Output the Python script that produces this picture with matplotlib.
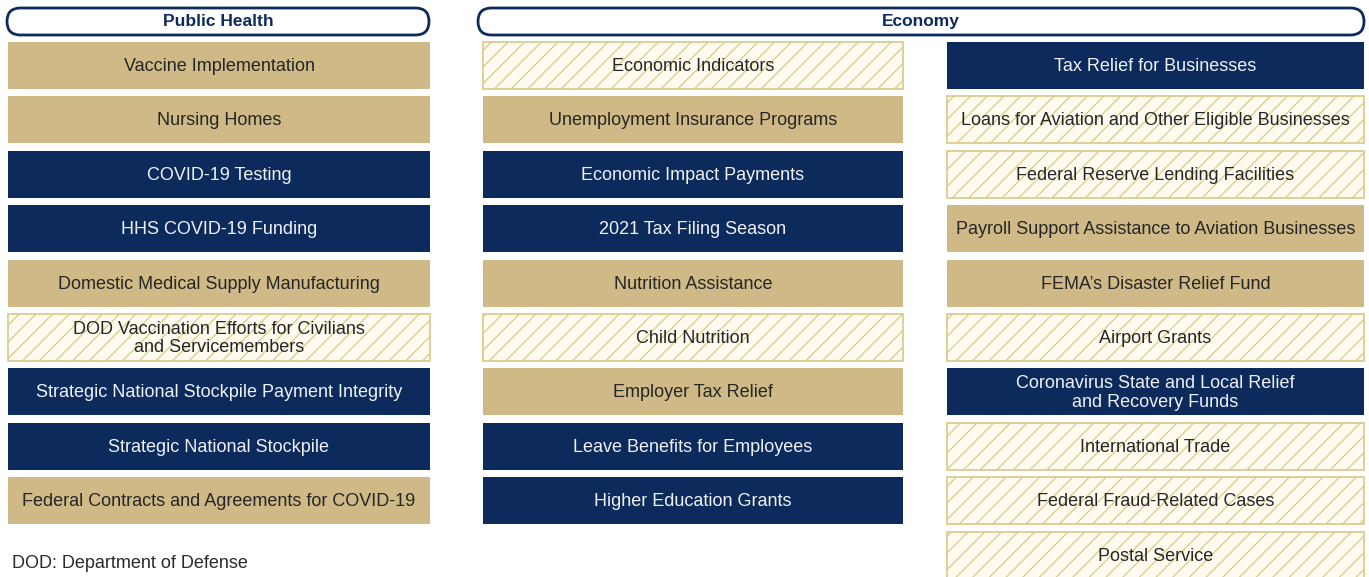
import matplotlib
matplotlib.use("Agg")
import matplotlib.pyplot as plt
from matplotlib.patches import Rectangle, FancyBboxPatch

plt.rcParams['font.family'] = ['Liberation Sans', 'DejaVu Sans']
plt.rcParams['hatch.linewidth'] = 0.9

# columns of topics and their fill style
col1 = ["Vaccine Implementation", "Nursing Homes", "COVID-19 Testing",
        "HHS COVID-19 Funding", "Domestic Medical Supply Manufacturing",
        "DOD Vaccination Efforts for Civilians\nand Servicemembers",
        "Strategic National Stockpile Payment Integrity",
        "Strategic National Stockpile",
        "Federal Contracts and Agreements for COVID-19"]
kind1 = ["gold", "gold", "navy", "navy", "gold", "hatch", "navy", "navy", "gold"]

col2 = ["Economic Indicators", "Unemployment Insurance Programs",
        "Economic Impact Payments", "2021 Tax Filing Season",
        "Nutrition Assistance", "Child Nutrition", "Employer Tax Relief",
        "Leave Benefits for Employees", "Higher Education Grants"]
kind2 = ["hatch", "gold", "navy", "navy", "gold", "hatch", "gold", "navy", "navy"]

col3 = ["Tax Relief for Businesses",
        "Loans for Aviation and Other Eligible Businesses",
        "Federal Reserve Lending Facilities",
        "Payroll Support Assistance to Aviation Businesses",
        "FEMA\u2019s Disaster Relief Fund", "Airport Grants",
        "Coronavirus State and Local Relief\nand Recovery Funds",
        "International Trade", "Federal Fraud-Related Cases", "Postal Service"]
kind3 = ["navy", "hatch", "hatch", "gold", "gold", "hatch", "navy", "hatch",
         "hatch", "hatch"]

headers = ["Public Health", "Economy"]
footnote = "DOD: Department of Defense"

NAVY = "#0c2b5c"
GOLD = "#cfb986"
CREAM = "#fffcef"
HATCH = "#dcc78a"

W, H = 1369, 577
fig = plt.figure(figsize=(W / 100, H / 100), dpi=100)
ax = fig.add_axes([0, 0, 1, 1])
ax.set_xlim(0, W)
ax.set_ylim(H, 0)
ax.axis("off")

# header pills
for label, (x0, x1) in zip(headers, [(7, 429), (478, 1364)]):
    pill = FancyBboxPatch((x0, 8), x1 - x0, 27,
                          boxstyle="round,pad=0,rounding_size=13.5",
                          fc="white", ec=NAVY, lw=2)
    ax.add_patch(pill)
    ax.text((x0 + x1) / 2, 21.5, label, ha="center", va="center",
            fontsize=12.5, fontweight="bold", color=NAVY)

row_top = 42
pitch = 54.4
bh = 47


def draw_col(labels, kinds, x0, x1):
    for i, (lab, k) in enumerate(zip(labels, kinds)):
        y = row_top + i * pitch
        if k == "navy":
            r = Rectangle((x0, y), x1 - x0, bh, fc=NAVY, ec="none")
            tc = "#eef1f6"
        elif k == "gold":
            r = Rectangle((x0, y), x1 - x0, bh, fc=GOLD, ec="none")
            tc = "#262626"
        else:
            r = Rectangle((x0, y), x1 - x0, bh, fc=CREAM, ec=HATCH,
                          lw=1.2, hatch="//")
            tc = "#262626"
        ax.add_patch(r)
        ax.text((x0 + x1) / 2, y + bh / 2 + 1, lab, ha="center", va="center",
                fontsize=13, color=tc, linespacing=1.1)


draw_col(col1, kind1, 8, 430)
draw_col(col2, kind2, 483, 903)
draw_col(col3, kind3, 947, 1364)

ax.text(12, 563, footnote, ha="left", va="center", fontsize=13,
        color="#2a2a2a")

fig.savefig("out.png", dpi=100)
